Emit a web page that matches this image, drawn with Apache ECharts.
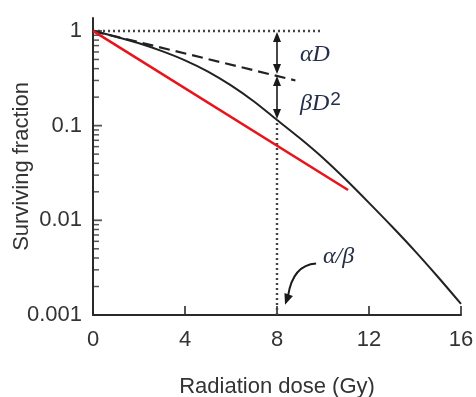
<!DOCTYPE html>
<html>
<head>
<meta charset="utf-8">
<script src="https://cdn.jsdelivr.net/npm/echarts@6/dist/echarts.min.js"></script>
<style>html,body{margin:0;padding:0;background:#fff}#c{width:476px;height:397px}</style>
</head>
<body>
<div id="c"></div>
<script>
// ---- data ----
const xTicks = [0, 4, 8, 12, 16];
const yMajorTicks = [0.001, 0.01, 0.1, 1];
const yMinorTicks = [0.002,0.003,0.004,0.005,0.006,0.007,0.008,0.009,
                     0.02,0.03,0.04,0.05,0.06,0.07,0.08,0.09,
                     0.2,0.3,0.4,0.5,0.6,0.7,0.8,0.9];
// linear-quadratic survival curve (black)
const lqDose =     [0, 1, 2, 3, 4, 5, 6, 7, 8, 9, 10, 11, 12, 13, 14, 15, 16];
const lqSurvival = [1, 0.870, 0.740, 0.612, 0.489, 0.372, 0.266, 0.180, 0.1148, 0.0734, 0.0455, 0.0268, 0.0153, 0.0086, 0.00473, 0.00252, 0.00131];
// red straight line
const redDose = [0, 11.09];
const redSurvival = [1, 0.0209];
// dashed initial slope (alpha component)
const alphaDose = [0, 8.8];
const alphaSurvival = [1, 0.30];
// dotted guides
const topDotDose = [0, 9.9];
const topDotSurvival = [1, 1];
const vertDotDose = [8, 8];
const vertDotSurvival = [0.001, 0.1148];
// annotation anchors
const markDose = 8;
const alphaAtMark = 0.343;
const lqAtMark = 0.1148;
const labelAlphaD = [9.0, 0.56];
const labelBetaD2 = [9.0, 0.17];
const labelRatio = [10.0, 0.0041];
const ratioArrowStart = [9.7, 0.0035];
const ratioArrowTip = [8.35, 0.00128];

(function () {
const zip = (a, b) => a.map((v, i) => [v, b[i]]);
const sans = '"Liberation Sans", Arial, Helvetica, sans-serif';
const serif = '"Liberation Serif", "Times New Roman", serif';
const txt = '#333';
const isPow10 = v => { const l = Math.log10(+v); return Math.abs(l - Math.round(l)) < 1e-6; };

const chart = echarts.init(document.getElementById('c'), null, {renderer: 'canvas'});

chart.setOption({
  animation: false,
  backgroundColor: '#fff',
  grid: {left: 93, right: 15, top: 18, bottom: 82, containLabel: false, outerBoundsMode: 'none'},
  xAxis: {
    type: 'value', min: 0, max: 16, interval: 4,
    name: 'Radiation dose (Gy)', nameLocation: 'middle', nameGap: 61, nameMoveOverlap: false,
    nameTextStyle: {fontFamily: sans, fontSize: 22, color: txt},
    axisLine: {lineStyle: {color: '#2a2a2a', width: 2}},
    axisTick: {inside: true, length: 9, lineStyle: {color: '#2a2a2a', width: 1.6}},
    axisLabel: {fontFamily: sans, fontSize: 22, color: txt, margin: 14},
    splitLine: {show: false}
  },
  yAxis: {
    type: 'log', logBase: 10, min: 0.001, max: 1.37,
    splitLine: {show: false},
    name: 'Surviving fraction', nameLocation: 'middle', nameGap: 60, nameMoveOverlap: false,
    nameTextStyle: {fontFamily: sans, fontSize: 22, color: txt},
    axisLine: {lineStyle: {color: '#2a2a2a', width: 2}},
    axisTick: {show: false},
    axisLabel: {fontFamily: sans, fontSize: 22, color: txt, margin: 11,
                formatter: v => isPow10(v) ? String(+(+v).toPrecision(3)) : ''}
  },
  series: [
    {type: 'scatter', name: 'majorTicks', data: yMajorTicks.map(v => [0, v]), silent: true, clip: false,
     symbol: 'rect', symbolSize: [9, 1.8], symbolOffset: [4.5, 0], itemStyle: {color: '#2a2a2a'}},
    {type: 'scatter', name: 'minorTicks', data: yMinorTicks.map(v => [0, v]), silent: true, clip: false,
     symbol: 'rect', symbolSize: [6, 1.5], symbolOffset: [3, 0], itemStyle: {color: '#2a2a2a'}},
    {type: 'line', name: 'topDot', data: zip(topDotDose, topDotSurvival), symbol: 'none',
     lineStyle: {color: '#444', width: 2.4, type: [2, 3]}},
    {type: 'line', name: 'vertDot', data: zip(vertDotDose, vertDotSurvival), symbol: 'none',
     lineStyle: {color: '#444', width: 2.4, type: [2, 3]}},
    {type: 'line', name: 'alpha', data: zip(alphaDose, alphaSurvival), symbol: 'none',
     lineStyle: {color: '#222', width: 2.2, type: [11, 6]}},
    {type: 'line', name: 'LQ', data: zip(lqDose, lqSurvival), symbol: 'none', smooth: 0.3,
     lineStyle: {color: '#222', width: 2}},
    {type: 'line', name: 'red', data: zip(redDose, redSurvival), symbol: 'none',
     lineStyle: {color: '#e8141c', width: 2.6}}
  ]
});

// ---- annotations positioned through the chart's own scales ----
const P = (d) => chart.convertToPixel({gridIndex: 0}, d);
const dark = '#1a1a1a';
function head(tip, dx, dy, len, w) {
  const n = Math.hypot(dx, dy); dx /= n; dy /= n;
  const bx = tip[0] - dx * len, by = tip[1] - dy * len;
  return {type: 'polygon', shape: {points: [tip, [bx - dy * w / 2, by + dx * w / 2], [bx + dy * w / 2, by - dx * w / 2]]},
          style: {fill: dark}};
}
function dblArrow(x, y1, y2) {
  const len = 10, w = 8;
  return [
    {type: 'line', shape: {x1: x, y1: y1 + len - 1, x2: x, y2: y2 - len + 1}, style: {stroke: dark, lineWidth: 1.6}},
    head([x, y1], 0, -1, len, w),
    head([x, y2], 0, 1, len, w)
  ];
}
const pTop = P([markDose, 1]);
const pMid = P([markDose, alphaAtMark]);
const pBot = P([markDose, lqAtMark]);
const pa = P(labelAlphaD), pb = P(labelBetaD2), pr = P(labelRatio);
const s0 = P(ratioArrowStart), t0 = P(ratioArrowTip);
const navy = '#24304a';
const graphic = [].concat(
  dblArrow(pTop[0], pTop[1] + 1, pMid[1] - 1),
  dblArrow(pTop[0], pMid[1] + 1, pBot[1] - 1),
  [
    {type: 'text', x: pa[0], y: pa[1], style: {text: 'αD', font: 'italic 24px ' + serif, fill: navy, verticalAlign: 'middle', align: 'left'}},
    {type: 'text', x: pb[0], y: pb[1], style: {
      text: '{a|βD}{b|2}', verticalAlign: 'middle', align: 'left',
      rich: {a: {font: 'italic 24px ' + serif, fill: navy},
             b: {font: '19px ' + sans, fill: navy, padding: [0, 0, 8, 1]}}}},
    {type: 'text', x: pr[0], y: pr[1], style: {text: 'α/β', font: 'italic 24px ' + serif, fill: navy, verticalAlign: 'middle', align: 'left'}},
    {type: 'bezierCurve', shape: {x1: s0[0], y1: s0[1], cpx1: s0[0] - 16, cpy1: s0[1] + 1, cpx2: t0[0] + 6, cpy2: t0[1] - 28, x2: t0[0] + 3, y2: t0[1] - 9},
     style: {stroke: dark, lineWidth: 2, fill: null}},
    head([t0[0], t0[1]], -0.35, 1, 11, 9)
  ]
);
chart.setOption({graphic: graphic});
})();
</script>
</body>
</html>
